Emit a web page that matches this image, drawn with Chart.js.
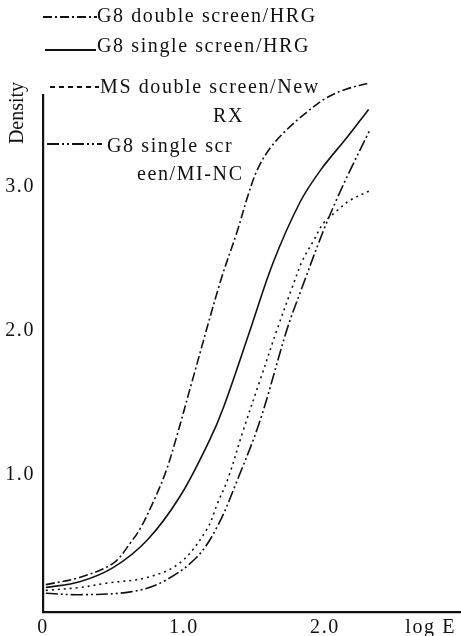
<!DOCTYPE html>
<html>
<head>
<meta charset="utf-8">
<script src="https://cdn.jsdelivr.net/npm/chart.js@4"></script>
<style>
  html, body { margin: 0; padding: 0; background: #fff; }
  #wrap { width: 461px; height: 636px; }
</style>
</head>
<body>
<div id="wrap"><canvas id="densityChart" width="461" height="636"></canvas></div>
<script>
// characteristic curves, density vs log E

const seriesNames = ['G8 double screen/HRG', 'G8 single screen/HRG', 'MS double screen/New RX', 'G8 single screen/MI-NC'];

const logE_g8DoubleHRG = [0.02, 0.26, 0.50, 0.62, 0.69, 0.78, 0.87, 0.94, 1.06, 1.26, 1.38, 1.45, 1.52, 1.61, 1.73, 1.87, 2.01, 2.15, 2.30];
const dens_g8DoubleHRG = [0.24, 0.29, 0.39, 0.53, 0.63, 0.81, 1.02, 1.24, 1.66, 2.35, 2.70, 2.93, 3.12, 3.27, 3.40, 3.52, 3.62, 3.68, 3.72];

const logE_g8SingleHRG = [0.02, 0.26, 0.50, 0.74, 0.97, 1.18, 1.28, 1.47, 1.63, 1.82, 1.97, 2.16, 2.31];
const dens_g8SingleHRG = [0.22, 0.26, 0.36, 0.55, 0.85, 1.24, 1.47, 2.01, 2.47, 2.89, 3.12, 3.35, 3.54];

const logE_msDoubleNewRX = [0.02, 0.26, 0.45, 0.74, 0.97, 1.16, 1.24, 1.31, 1.42, 1.54, 1.66, 1.77, 1.84, 1.92, 1.99, 2.09, 2.18, 2.33];
const dens_msDoubleNewRX = [0.20, 0.22, 0.25, 0.29, 0.39, 0.62, 0.81, 0.97, 1.31, 1.66, 2.01, 2.31, 2.49, 2.63, 2.75, 2.84, 2.91, 2.98];

const logE_g8SingleMINC = [0.02, 0.26, 0.62, 0.85, 1.09, 1.24, 1.38, 1.54, 1.73, 1.84, 1.99, 2.09, 2.18, 2.32];
const dens_g8SingleMINC = [0.18, 0.17, 0.19, 0.26, 0.43, 0.65, 0.97, 1.38, 2.01, 2.31, 2.70, 2.93, 3.12, 3.40];

const xTickValues = [0, 1, 2, 2.75];
const xTickLabels = ['0', '1.0', '2.0', 'log E'];
const yTickValues = [1, 2, 3];
const yTickLabels = ['1.0', '2.0', '3.0'];

const dashes = [[9, 3, 2, 3], [], [2, 4], [12, 3, 2, 3, 2, 3]];
const legendDashes = [[9, 3, 2, 3], [], [5, 4], [12, 3, 2, 3, 2, 3]];

const FONT = '"Liberation Serif", "DejaVu Serif", serif';

function pts(xs, ys) {
  return xs.map((x, i) => ({ x: x, y: ys[i] }));
}

function makeSet(label, xs, ys, dash) {
  return {
    label: label,
    data: pts(xs, ys),
    borderColor: '#111',
    borderWidth: 1.6,
    borderDash: dash,
    pointRadius: 0,
    fill: false,
    tension: 0.35,
    clip: false
  };
}

const textPlugin = {
  id: 'textPlugin',
  beforeDraw(chart) {
    chart.ctx.letterSpacing = '1.6px';
  },
  afterDraw(chart) {
    const ctx = chart.ctx;
    ctx.save();
    ctx.fillStyle = '#111';
    ctx.strokeStyle = '#111';
    ctx.font = '20px ' + FONT;
    ctx.textBaseline = 'alphabetic';
    ctx.textAlign = 'left';
    ctx.letterSpacing = '1.6px';

    // legend rows: sample line + text (two rows wrap)
    const rows = [
      { x0: 43, x1: 97, ly: 17, lines: [['G8 double screen/HRG', 97, 22]] },
      { x0: 45, x1: 96, ly: 50, lines: [['G8 single screen/HRG', 97, 52]] },
      { x0: 50, x1: 99, ly: 87, lines: [['MS double screen/New', 100, 93], ['RX', 213, 122]] },
      { x0: 47, x1: 102, ly: 144, lines: [['G8 single scr', 107, 152], ['een/MI-NC', 137, 180]] }
    ];
    rows.forEach((r, i) => {
      ctx.lineWidth = 1.8;
      ctx.setLineDash(legendDashes[i]);
      ctx.beginPath();
      ctx.moveTo(r.x0, r.ly);
      ctx.lineTo(r.x1, r.ly);
      ctx.stroke();
      r.lines.forEach(t => ctx.fillText(t[0], t[1], t[2]));
    });
    ctx.setLineDash([]);

    // y axis title
    ctx.save();
    ctx.translate(23, 113);
    ctx.rotate(-Math.PI / 2);
    ctx.textAlign = 'center';
    ctx.letterSpacing = '0px';
    ctx.fillText('Density', 0, 0);
    ctx.restore();

    ctx.restore();
  }
};

const ctx = document.getElementById('densityChart').getContext('2d');
new Chart(ctx, {
  type: 'line',
  data: {
    datasets: [
      makeSet(seriesNames[0], logE_g8DoubleHRG, dens_g8DoubleHRG, dashes[0]),
      makeSet(seriesNames[1], logE_g8SingleHRG, dens_g8SingleHRG, dashes[1]),
      makeSet(seriesNames[2], logE_msDoubleNewRX, dens_msDoubleNewRX, dashes[2]),
      makeSet(seriesNames[3], logE_g8SingleMINC, dens_g8SingleMINC, dashes[3])
    ]
  },
  options: {
    responsive: false,
    animation: false,
    layout: { padding: { top: 95, left: 0, right: 0, bottom: 0 } },
    plugins: { legend: { display: false }, tooltip: { enabled: false } },
    scales: {
      x: {
        type: 'linear',
        min: 0,
        max: 2.965,
        afterBuildTicks: s => { s.ticks = xTickValues.map(v => ({ value: v })); },
        afterFit: s => { s.height = 24; },
        grid: { display: false, drawTicks: false },
        border: { display: true, color: '#111', width: 2.2 },
        ticks: {
          autoSkip: false,
          maxRotation: 0,
          padding: 4,
          color: '#111',
          font: { family: FONT, size: 20 },
          callback: v => xTickLabels[xTickValues.indexOf(v)]
        }
      },
      y: {
        min: 0.05,
        max: 3.64,
        afterBuildTicks: s => { s.ticks = yTickValues.map(v => ({ value: v })); },
        afterFit: s => { s.width = 43; },
        grid: { display: false, drawTicks: false },
        border: { display: true, color: '#111', width: 2.2 },
        ticks: {
          padding: 8,
          color: '#111',
          font: { family: FONT, size: 20 },
          callback: v => yTickLabels[yTickValues.indexOf(v)]
        }
      }
    }
  },
  plugins: [textPlugin]
});
</script>
</body>
</html>
